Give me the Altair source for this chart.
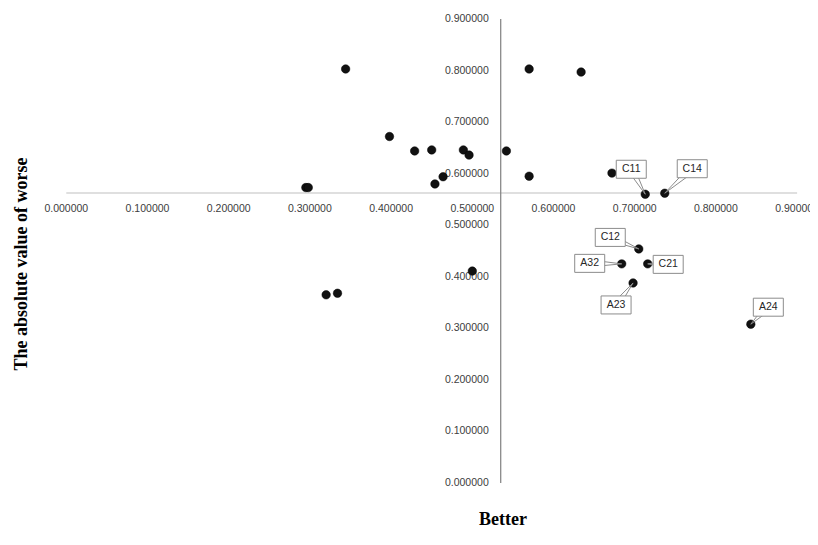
import altair as alt
import pandas as pd
import numpy as np

# ---- data ----
better = [0.344, 0.570, 0.634, 0.398, 0.429, 0.450, 0.489, 0.496, 0.542, 0.570,
          0.464, 0.454, 0.295, 0.298, 0.672, 0.713, 0.737, 0.705, 0.684, 0.716,
          0.698, 0.843, 0.500, 0.320, 0.334]
worse = [0.803, 0.803, 0.797, 0.672, 0.644, 0.646, 0.646, 0.636, 0.644, 0.595,
         0.594, 0.580, 0.573, 0.573, 0.601, 0.560, 0.562, 0.454, 0.425, 0.425,
         0.388, 0.308, 0.411, 0.365, 0.368]
names = ["", "", "", "", "", "", "", "", "", "",
         "", "", "", "", "", "C11", "C14", "C12", "A32", "C21",
         "A23", "A24", "", "", ""]

x_ticks = [0.0, 0.1, 0.2, 0.3, 0.4, 0.5, 0.6, 0.7, 0.8, 0.9]
y_ticks = [0.0, 0.1, 0.2, 0.3, 0.4, 0.5, 0.6, 0.7, 0.8, 0.9]
x_tick_labels = ["0.000000", "0.100000", "0.200000", "0.300000", "0.400000",
                 "0.500000", "0.600000", "0.700000", "0.800000", "0.900000"]
y_tick_labels = x_tick_labels

# where the axes cross (Excel style)
h_axis_at = 0.5625   # worse value of the horizontal axis
v_axis_at = 0.535    # better value of the vertical axis

# callout box offsets (pixels, box centre relative to its point)
callout_names = ["C11", "C14", "C12", "A32", "C21", "A23", "A24"]
callout_dx = [-14, 27.5, -28.5, -32, 20.5, -17, 17.5]
callout_dy = [-25, -24.5, -11.5, -0.5, 0.5, 22, -17]

# ---- layout ----
W, H = 802, 522
PX_X, PX_Y = 812.0, 515.6      # pixels per unit
X0, Y0 = 58.3, 475.0           # pixel position of value 0
xdom = [(0 - X0) / PX_X, (W - X0) / PX_X]
ydom = [(Y0 - H) / PX_Y, Y0 / PX_Y]
xs = alt.Scale(domain=xdom, nice=False, zero=False)
ys = alt.Scale(domain=ydom, nice=False, zero=False)

LABEL_FONT = "Liberation Sans"
LABEL_COLOR = "#404040"
TITLE_FONT = "Liberation Serif"

pts = pd.DataFrame({"better": better, "worse": worse, "name": names})

# axis lines
hline = alt.Chart(pd.DataFrame({"x": [0.0], "x2": [0.9], "y": [h_axis_at]})).mark_rule(
    color="#bfbfbf", strokeWidth=1.2).encode(
    x=alt.X("x:Q", scale=xs, axis=None), x2="x2:Q",
    y=alt.Y("y:Q", scale=ys, axis=None))
vline = alt.Chart(pd.DataFrame({"x": [v_axis_at], "y": [0.0], "y2": [0.9]})).mark_rule(
    color="#7f7f7f", strokeWidth=1.2).encode(
    x=alt.X("x:Q", scale=xs, axis=None),
    y=alt.Y("y:Q", scale=ys, axis=None), y2="y2:Q")

xlab_df = pd.DataFrame({"x": x_ticks, "y": [h_axis_at] * len(x_ticks), "t": x_tick_labels})
xlabels = alt.Chart(xlab_df).mark_text(
    dy=16, font=LABEL_FONT, fontSize=10.5, color=LABEL_COLOR).encode(
    x=alt.X("x:Q", scale=xs, axis=None), y=alt.Y("y:Q", scale=ys, axis=None), text="t:N")

ylab_df = pd.DataFrame({"x": [v_axis_at] * len(y_ticks), "y": y_ticks, "t": y_tick_labels})
ylabels = alt.Chart(ylab_df).mark_text(
    align="right", baseline="middle", dx=-12, font=LABEL_FONT, fontSize=10.5,
    color=LABEL_COLOR).encode(
    x=alt.X("x:Q", scale=xs, axis=None), y=alt.Y("y:Q", scale=ys, axis=None), text="t:N")

# callouts
bw, bh = 30, 18
rows_box, rows_wedge = [], []
for n, dx, dy in zip(callout_names, callout_dx, callout_dy):
    i = names.index(n)
    px, py = better[i], worse[i]
    cx = px + dx / PX_X
    cy = py - dy / PX_Y
    rows_box.append({"name": n, "cx": cx, "cy": cy,
                     "x1": cx - bw / 2 / PX_X, "x2": cx + bw / 2 / PX_X,
                     "y1": cy - bh / 2 / PX_Y, "y2": cy + bh / 2 / PX_Y})
    # wedge: two lines from box centre (offset perpendicular) to the point
    vx, vy = -dx, -dy
    L = np.hypot(vx, vy)
    nx, ny = -vy / L, vx / L
    for s in (-3.5, 3.5):
        rows_wedge.append({"x": cx + s * nx / PX_X, "y": cy - s * ny / PX_Y,
                           "xe": px, "ye": py})
box_df = pd.DataFrame(rows_box)
wedge_df = pd.DataFrame(rows_wedge)

wedges = alt.Chart(wedge_df).mark_rule(color="#8c8c8c", strokeWidth=1).encode(
    x=alt.X("x:Q", scale=xs, axis=None), y=alt.Y("y:Q", scale=ys, axis=None),
    x2="xe:Q", y2="ye:Q")
boxes = alt.Chart(box_df).mark_rect(fill="white", stroke="#8c8c8c", strokeWidth=1).encode(
    x=alt.X("x1:Q", scale=xs, axis=None), x2="x2:Q",
    y=alt.Y("y1:Q", scale=ys, axis=None), y2="y2:Q")
box_text = alt.Chart(box_df).mark_text(
    font=LABEL_FONT, fontSize=10.5, color="#262626", baseline="middle").encode(
    x=alt.X("cx:Q", scale=xs, axis=None), y=alt.Y("cy:Q", scale=ys, axis=None), text="name:N")

points = alt.Chart(pts).mark_circle(size=72, color="#111111", opacity=1,
                                    stroke="#000000", strokeWidth=0.5).encode(
    x=alt.X("better:Q", scale=xs, axis=None),
    y=alt.Y("worse:Q", scale=ys, axis=None))

ytitle = alt.Chart(pd.DataFrame({"t": ["The absolute value of worse"]})).mark_text(
    angle=270, font=TITLE_FONT, fontSize=18, fontWeight="bold", color="#000000",
    baseline="middle").encode(
    x=alt.value(14), y=alt.value(256), text="t:N")
xtitle = alt.Chart(pd.DataFrame({"t": ["Better"]})).mark_text(
    font=TITLE_FONT, fontSize=18, fontWeight="bold", color="#000000",
    baseline="bottom").encode(
    x=alt.value(495), y=alt.value(521), text="t:N")

chart = alt.layer(hline, vline, xlabels, ylabels, points, wedges, boxes, box_text,
                  ytitle, xtitle).properties(
    width=W, height=H, padding=0,
    autosize=alt.AutoSizeParams(type="none"),
    background="white",
).configure_view(stroke=None)

chart.save("out.html", embed_options={"renderer": "svg", "actions": False})
